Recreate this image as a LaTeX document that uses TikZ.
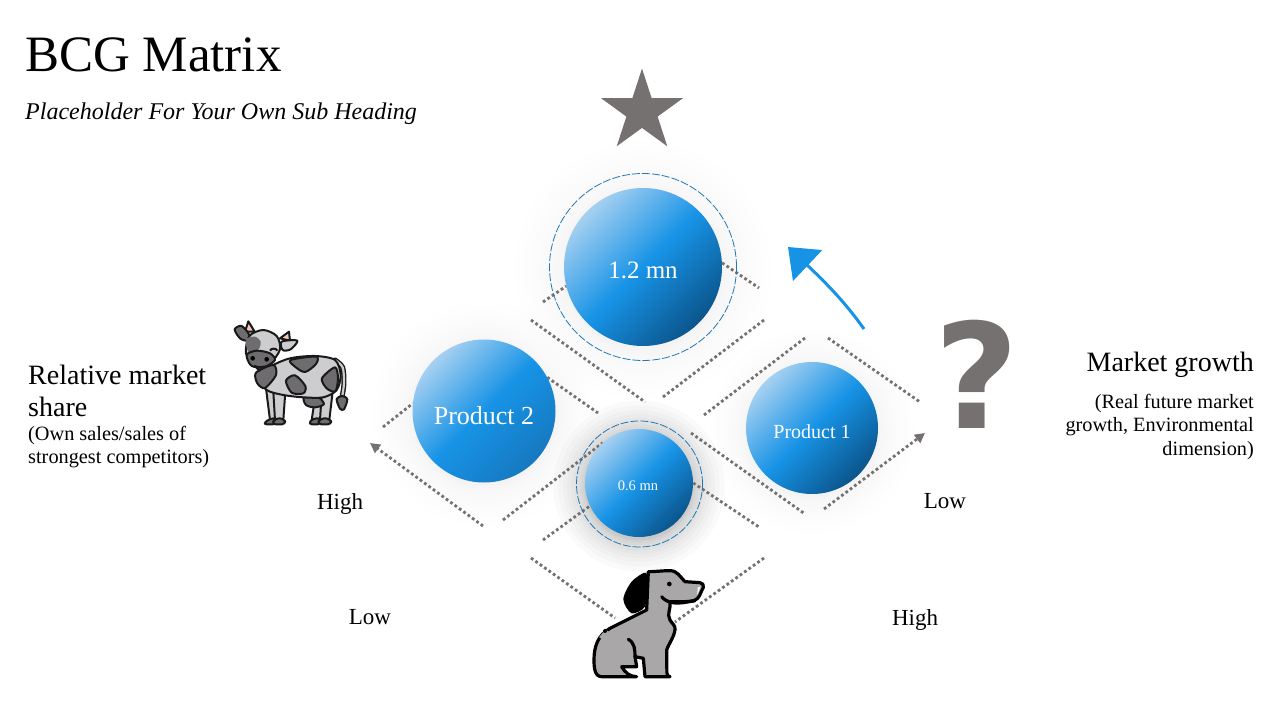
\documentclass[tikz,border=0pt]{standalone}
\usepackage{fontspec}
\setmainfont{Liberation Serif}
\newfontfamily\markfont{DejaVu Sans}
\usetikzlibrary{positioning,backgrounds,arrows.meta,shapes.geometric}
\definecolor{MarkGray}{HTML}{767171}
\definecolor{RingBlue}{HTML}{1F78B4}
\definecolor{SkyBlue}{HTML}{1793E6}
\definecolor{BallLight}{HTML}{A6D0F1}
\definecolor{BallDark}{HTML}{0B558C}
\definecolor{BallMid}{HTML}{1679C0}
\definecolor{CowLight}{HTML}{CDCDCF}
\definecolor{CowSpot}{HTML}{6E6C6E}
\definecolor{CowHorn}{HTML}{F5C7B8}
\definecolor{DogGray}{HTML}{A9A7A7}
\tikzset{
  ball/.style={circle, inner sep=0pt, top color=BallLight,
    bottom color=BallDark, middle color=SkyBlue, shading angle=45},
  softball/.style={ball, bottom color=BallMid, middle color=SkyBlue, shading angle=45},
  balltext/.style={inner sep=0pt, text=white},
  ring/.style={circle, inner sep=0pt, draw=RingBlue, line width=0.8pt, dash pattern=on 8pt off 2pt},
  gridline/.style={MarkGray, line width=2.8pt, dash pattern=on 2.8pt off 2.6pt},
  gridarrow/.style={gridline, -{Triangle[length=10pt,width=10pt]}},
  axislabel/.style={font=\fontsize{23}{27}\selectfont},
  bigline/.style={font=\fontsize{28}{32}\selectfont},
  smallline/.style={font=\fontsize{20.3}{23.5}\selectfont},
  cowline/.style={draw=black!90, line width=2pt, line join=round},
  dogline/.style={draw=black, line width=3.2pt, line join=round, line cap=round},
}

\begin{document}
\begin{tikzpicture}[x=1pt,y=-1pt]
  \useasboundingbox (0,0) rectangle (1280,720);

  \node[anchor=base west, inner sep=0pt, font=\fontsize{51}{60}\selectfont] (Title) at (25,71) {BCG Matrix};
  \node[anchor=base west, inner sep=0pt, font=\fontsize{24}{30}\selectfont\itshape] (SubTitle) at (25,119) {Placeholder For Your Own Sub Heading};

  % balls
  \node[ball, minimum size=108pt] (BallLow) at (639,483) {};
  \node[ball, on grid, above right=216pt and 4pt of BallLow, minimum size=158pt] (BallTop) {};
  \node[softball, on grid, above left=72pt and 155pt of BallLow, minimum size=143pt] (BallLeft) {};
  \node[ball, on grid, above right=55pt and 173pt of BallLow, minimum size=132pt] (BallRight) {};
  \node[ring, minimum size=187pt] (RingTop) at (BallTop) {};
  \node[ring, minimum size=126pt] (RingLow) at (639.5,484) {};
  \node[balltext, on grid, below left=3pt and 1pt of BallLow, font=\fontsize{14.5}{16}\selectfont] (TextLow) {0.6 mn};
  \node[balltext, on grid, below=3pt of BallTop, font=\fontsize{25}{30}\selectfont] (TextTop) {1.2 mn};
  \node[balltext, on grid, below=5pt of BallLeft, font=\fontsize{26}{30}\selectfont] (TextLeft) {Product 2};
  \node[balltext, on grid, below=4pt of BallRight, font=\fontsize{20}{24}\selectfont] (TextRight) {Product 1};

  \node[star, star points=5, star point ratio=2.618, fill=MarkGray, inner sep=0pt, minimum size=86pt] (StarMark) at (642,111.5) {};
  \node[text=MarkGray, inner sep=0pt, font=\markfont\bfseries\fontsize{146}{146}\selectfont] (AskMark) at (977,374) {?};

  \node[bigline, anchor=west, align=left, inner sep=0pt] (ShareHead) at (28,391) {Relative market\\share};
  \node[smallline, anchor=west, align=left, inner sep=0pt] (ShareSub) at (28,447) {(Own sales/sales of\\strongest competitors)};
  \node[bigline, anchor=east, inner sep=0pt] (GrowthHead) at (1254,365) {Market growth};
  \node[smallline, anchor=east, align=right, inner sep=0pt] (GrowthSub) at (1254,427) {(Real future market\\growth, Environmental\\dimension)};

  \node[axislabel] (HighLeft) at (340,504) {High};
  \node[axislabel] (LowRight) at (945,501) {Low};
  \node[axislabel] (LowLeft) at (370,617) {Low};
  \node[axislabel] (HighRight) at (915,620) {High};

  % free ends of the dotted lines
  \coordinate (T1) at (543,302);
  \coordinate (T2) at (759,288);
  \coordinate (C1) at (531,320);
  \coordinate (C2) at (645,402);
  \coordinate (D1) at (663,397);
  \coordinate (D2) at (764,320);
  \coordinate (L1) at (598,413);
  \coordinate (L2) at (383,427);
  \coordinate (L3) at (483,526);
  \coordinate (L4) at (370,443);
  \coordinate (L5) at (503,520);
  \coordinate (B1) at (543,540);
  \coordinate (B2) at (759,527);
  \coordinate (K1) at (691,433);
  \coordinate (K2) at (805,514);
  \coordinate (R1) at (824,509);
  \coordinate (R2) at (925,433);
  \coordinate (M1) at (704,415);
  \coordinate (M2) at (805,338);
  \coordinate (N1) at (828,338);
  \coordinate (N2) at (920,402);
  \coordinate (O1) at (531,558);
  \coordinate (O2) at (615,618);
  \coordinate (P1) at (764,558);
  \coordinate (P2) at (675,622);

  \begin{pgfonlayer}{background}
    \foreach \ballname/\radius/\shade/\reach in {BallTop/79/0.004/0.34, BallLeft/71/0.004/0.28, BallRight/66/0.004/0.25, BallLow/54/0.02/0.22}{
      \foreach \k in {1,...,12}{
        \fill[black, opacity=\shade] ([yshift=-3pt]\ballname.center) circle ({\radius+\k*\k*\reach});
      }
    }
    \foreach \from/\to in {T1/BallTop.194, BallTop.3/T2, C1/C2, D1/D2, BallLeft.28/L1, L2/BallLeft.174,
      L5/BallLow.132, B1/BallLow.205, BallLow.0/B2, K1/K2, M1/M2, N1/N2, O1/O2, P1/P2}{
      \draw[gridline] (\from) -- (\to);
    }
    \draw[gridarrow] (L3) -- (L4);
    \draw[gridarrow] (R1) -- (R2);
  \end{pgfonlayer}

  % curved arrow
  \coordinate (SweepFrom) at (864,329);
  \coordinate (SweepTo) at (788,247);
  \draw[SkyBlue, line width=3pt, -{Triangle[length=27pt,width=42pt]}] (SweepFrom) .. controls (845,302) and (825,282) .. (SweepTo);

  % cow
  \begin{scope}[shift={(220,310)},x=0.3333pt,y=-0.3333pt]
    \draw[black!90, line width=5pt, line cap=round] plot[smooth] coordinates {(345,150) (368,172) (372,220) (366,262)};
    \draw[CowLight, line width=2.2pt, line cap=round] plot[smooth] coordinates {(345,150) (368,172) (372,220) (366,262)};
    \draw[cowline, fill=CowSpot] plot[smooth cycle] coordinates {(366,258) (382,268) (372,298) (360,296) (350,268)};
    \draw[cowline, fill=CowLight] (285,265) -- (275,330) -- (305,330) -- (315,265) -- cycle;
    \draw[cowline, fill=CowLight] (305,255) -- (300,330) -- (328,330) -- (338,245) -- cycle;
    \draw[cowline, fill=CowSpot, rounded corners=4pt] (278,325) -- (264,343) -- (305,343) -- (305,325) -- cycle;
    \draw[cowline, fill=CowSpot, rounded corners=4pt] (300,325) -- (292,343) -- (336,343) -- (330,325) -- cycle;
    \draw[cowline, fill=CowSpot] plot[smooth cycle] coordinates {(252,262) (290,258) (312,282) (285,292) (258,285)};
    \draw[cowline, fill=CowLight] (138,235) -- (150,330) -- (170,330) -- (172,245) -- cycle;
    \draw[cowline, fill=CowLight] (160,245) -- (165,330) -- (190,330) -- (196,245) -- cycle;
    \draw[cowline, fill=CowSpot, rounded corners=4pt] (150,325) -- (128,343) -- (170,343) -- (170,325) -- cycle;
    \draw[cowline, fill=CowSpot, rounded corners=4pt] (165,325) -- (155,343) -- (198,343) -- (192,325) -- cycle;
    \draw[cowline, fill=CowLight] plot[smooth cycle] coordinates {(150,170) (210,145) (285,138) (345,150) (362,195) (350,240) (310,262) (250,262) (190,255) (140,240) (112,200)};
    \draw[cowline, fill=CowSpot] plot[smooth cycle] coordinates {(212,150) (288,140) (288,162) (255,186) (225,170)};
    \draw[cowline, fill=CowSpot] plot[smooth cycle] coordinates {(306,205) (345,172) (354,205) (346,244) (320,235)};
    \draw[cowline, fill=CowSpot] plot[smooth cycle] coordinates {(198,212) (225,196) (256,228) (250,250) (215,248)};
    \draw[cowline, fill=CowSpot] plot[smooth cycle] coordinates {(108,188) (160,165) (168,195) (135,234) (112,220)};
    \draw[cowline, fill=CowHorn] (75,65) -- (85,34) -- (104,65) -- cycle;
    \draw[cowline, fill=CowHorn] (180,85) -- (207,65) -- (210,92) -- cycle;
    \draw[cowline, fill=CowSpot] plot[smooth cycle] coordinates {(44,58) (65,48) (88,75) (82,92) (60,85)};
    \draw[cowline, fill=CowLight] plot[smooth cycle] coordinates {(185,95) (232,92) (212,118) (188,120)};
    \draw[cowline, fill=CowLight] plot[smooth cycle] coordinates {(88,78) (130,60) (170,78) (180,118) (150,160) (105,165) (78,130)};
    \fill[CowSpot] plot[smooth cycle] coordinates {(78,88) (105,80) (122,95) (115,118) (85,125)};
    \draw[cowline, fill=CowSpot] plot[smooth cycle] coordinates {(80,135) (110,122) (150,130) (165,150) (135,170) (95,168)};
    \fill[black] (98,145) circle (7);
    \fill[black] (140,148) circle (7);
    \draw[cowline] (150,122) to[out=70,in=110] (172,122);
    \draw[cowline, fill=white] (105,168) to[out=-30,in=210] (130,170) -- (118,182) -- cycle;
  \end{scope}

  % dog
  \begin{scope}[shift={(570,550)},x=0.3333pt,y=-0.3333pt]
    \draw[dogline, fill=DogGray] (235,65) to[out=0,in=180] (300,62) to[out=0,in=135] (345,95) -- (390,98) to[out=0,in=60] (400,112) to[out=-120,in=20] (372,152) to[out=190,in=0] (300,155) to[out=-80,in=120] (300,210) to[out=-60,in=80] (315,240) to[out=-100,in=70] (290,300) -- (290,345) to[out=-80,in=180] (300,380) -- (225,380) -- (220,325) -- (195,320) -- (200,350) -- (155,350) to[out=-60,in=180] (200,380) -- (95,380) to[out=180,in=-90] (72,330) to[out=90,in=-150] (120,235) -- (230,180) -- cycle;
    \fill[black] plot[smooth cycle] coordinates {(228,68) (185,95) (160,148) (185,190) (225,170) (230,115)};
    \draw[DogGray, line width=4pt] (92,265) -- (112,242);
    \fill[white] (383,112) -- (392,110) -- (382,135) -- cycle;
    \fill[black] (298,102) circle (7);
    \fill[black] (105,243) circle (6);
    \draw[dogline] (275,140) to[out=-50,in=185] (340,158) -- (375,152);
    \draw[dogline] (175,268) to[out=-30,in=90] (195,320);
  \end{scope}
\end{tikzpicture}
\end{document}
